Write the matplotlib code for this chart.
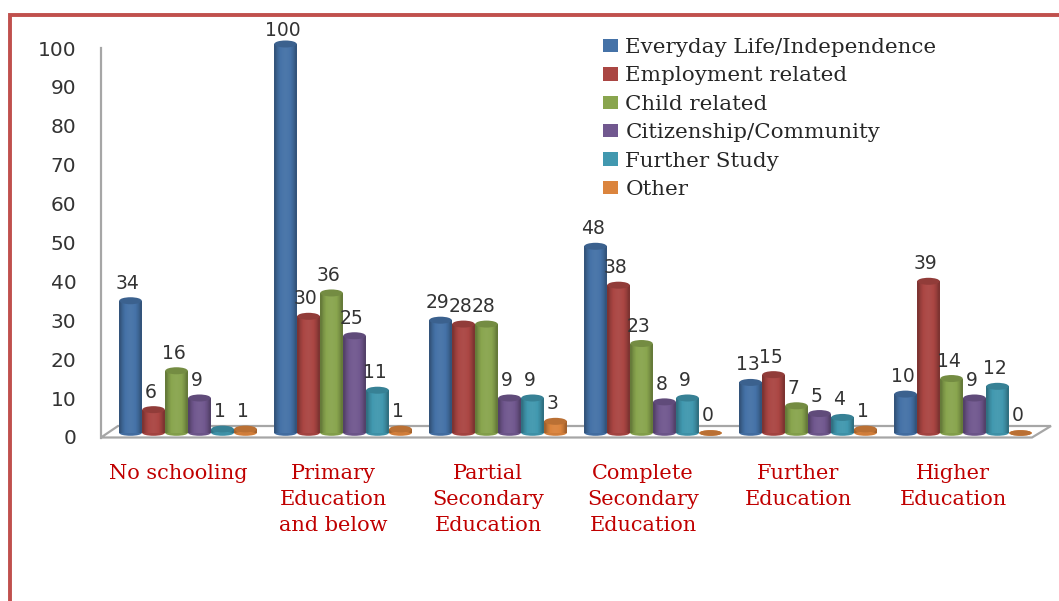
import numpy as np
import matplotlib
matplotlib.use("Agg")
import matplotlib.pyplot as plt
from matplotlib.colors import to_rgb
from matplotlib.patches import Ellipse, Polygon
from matplotlib.transforms import ScaledTranslation

categories = ["No schooling", "Primary\nEducation\nand below", "Partial\nSecondary\nEducation",
              "Complete\nSecondary\nEducation", "Further\nEducation", "Higher\nEducation"]
series_names = ["Everyday Life/Independence", "Employment related", "Child related",
                "Citizenship/Community", "Further Study", "Other"]
everyday = [34, 100, 29, 48, 13, 10]
employment = [6, 30, 28, 38, 15, 39]
child = [16, 36, 28, 23, 7, 14]
citizenship = [9, 25, 9, 8, 5, 9]
further = [1, 11, 9, 9, 4, 12]
other = [1, 1, 3, 0, 1, 0]
all_series = [everyday, employment, child, citizenship, further, other]
colors = ["#4572A7", "#AA4643", "#89A54E", "#71588F", "#4198AF", "#DB843D"]
y_ticks = list(range(0, 101, 10))

W, H = 1059, 601
fig = plt.figure(figsize=(W / 100, H / 100), dpi=100, facecolor="white")

# decoration layer in pixel coordinates: slide border and 3D floor
bg = fig.add_axes([0, 0, 1, 1], zorder=0)
bg.set_xlim(0, W)
bg.set_ylim(H, 0)
bg.axis("off")
bg.plot([9.5, 9.5, W], [H, 15, 15], color="#C0504D", lw=2.8, solid_joinstyle="miter")
grey = "#A6A6A6"
bg.add_patch(Polygon([[101, 437.5], [1032, 437.5], [1051, 426], [118, 426]], closed=True,
                     facecolor="white", edgecolor=grey, lw=1.6))
bg.plot([100.5, 100.5], [48, 438], color=grey, lw=1.6)

# main chart axes: value 0 at pixel y 433, value 100 at pixel y 44
left, right, top, base = 110.5, 1040.5, 44, 433
ax = fig.add_axes([left / W, 1 - base / H, (right - left) / W, (base - top) / H], zorder=1)
ax.patch.set_alpha(0)
for s in ax.spines.values():
    s.set_visible(False)

bw = 23 / 155
n = len(all_series)
ell_h = 1.8
prof = [0.74, 0.9, 1.0, 1.03, 1.04, 1.03, 1.0, 0.9, 0.74]


def shade(c, t):
    c = np.array(to_rgb(c))
    return c * t if t <= 1 else c + (1 - c) * (t - 1)


for i, (vals, col) in enumerate(zip(all_series, colors)):
    xs = np.arange(len(categories)) + (i - (n - 1) / 2) * bw
    zo = 2 + i * 0.1
    bars = ax.bar(xs, vals, bw, color=col, linewidth=0, zorder=zo, clip_on=False,
                  label=series_names[i])
    grad = np.array([[shade(col, t) for t in prof]])
    for x, v, b in zip(xs, vals, bars):
        ax.add_patch(Ellipse((x, 0), bw * 0.98, ell_h * 0.8, facecolor=shade(col, 0.95),
                             edgecolor="none", zorder=zo - 0.01, clip_on=False))
        if v > 0:
            im = ax.imshow(grad, extent=(x - bw / 2, x + bw / 2, 0, v), aspect="auto",
                           interpolation="bilinear", zorder=zo + 0.01)
            im.set_clip_path(b)
        ax.add_patch(Ellipse((x, v), bw * 0.98, ell_h * (1 if v > 0 else 0.8),
                             facecolor=shade(col, 0.85), edgecolor="none", zorder=zo + 0.02,
                             clip_on=False))
        ax.annotate(str(v), (x, v), xytext=(-3, 4 if v == 100 else 8), textcoords="offset pixels",
                    ha="center", va="bottom", fontsize=13.5, color="#333333", zorder=5,
                    annotation_clip=False)
ax.set_xlim(-0.5, 5.5)
ax.set_ylim(0, 100)

ax.set_yticks(y_ticks)
ax.set_xticks(range(len(categories)), categories)
ax.tick_params(axis="y", length=0, pad=24.5, labelsize=14.5, labelcolor="#333333")
ax.tick_params(axis="x", length=0, pad=22.5, labelsize=15, labelcolor="#C00000")
shift_y = ScaledTranslation(0, -4 / 100, fig.dpi_scale_trans)
shift_x = ScaledTranslation(-10 / 100, 0, fig.dpi_scale_trans)
for t in ax.get_yticklabels():
    t.set_transform(t.get_transform() + shift_y)
for t in ax.get_xticklabels():
    t.set_transform(t.get_transform() + shift_x)
    t.set_fontfamily("DejaVu Serif")
    t.set_linespacing(1.47)

handles = [plt.Rectangle((0, 0), 1, 1, facecolor=c, edgecolor="none") for c in colors]
leg = fig.legend(handles, series_names, loc="upper left", bbox_to_anchor=(603 / W, 1 - 38 / H),
                 frameon=False, ncol=1, borderpad=0, borderaxespad=0, handlelength=0.72,
                 handleheight=0.58, handletextpad=0.33, labelspacing=0.44,
                 prop={"family": "DejaVu Serif", "size": 15.4})
for t in leg.get_texts():
    t.set_color("#262626")
leg.set_zorder(6)

fig.savefig("out.png", dpi=100, facecolor="white")
